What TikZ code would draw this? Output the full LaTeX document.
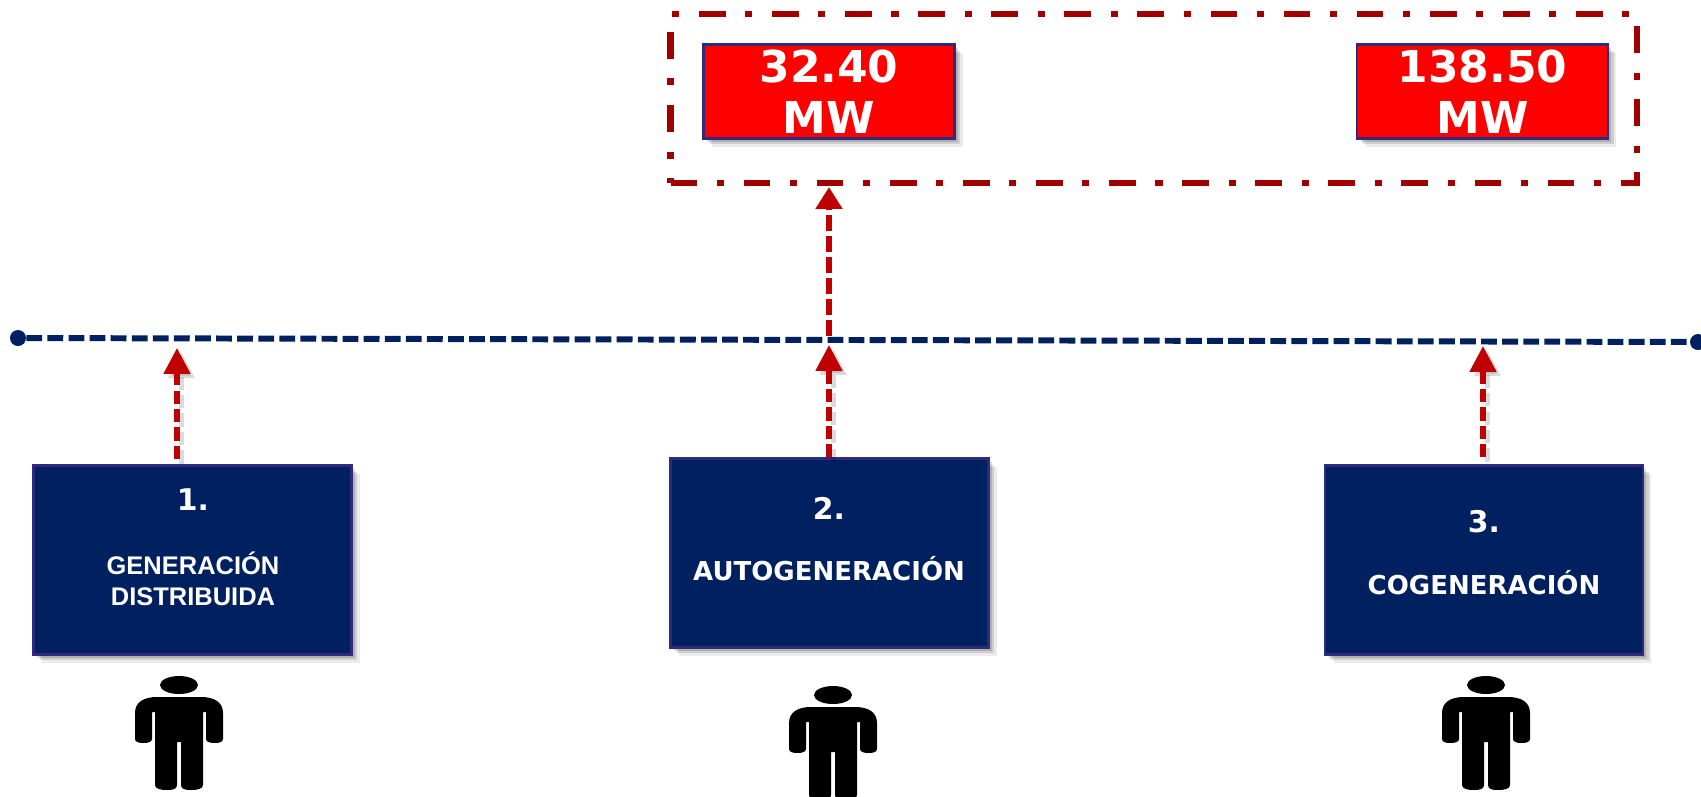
\documentclass[tikz,border=0pt]{standalone}
\usepackage{fontspec}
\setmainfont{DejaVu Sans}
\newfontfamily\arialfont{Liberation Sans}
\usetikzlibrary{arrows.meta,shadows}
\definecolor{azul}{HTML}{002060}
\definecolor{borde}{HTML}{2E2A7E}
\definecolor{rojo}{HTML}{FF0000}
\definecolor{rojoflecha}{HTML}{C00000}
\definecolor{rojolimite}{HTML}{A00000}
\tikzset{
	sombra/.style={
		drop shadow={shadow xshift=.17cm,shadow yshift=-.17cm,opacity=.08,fill=black},
		drop shadow={shadow xshift=.12cm,shadow yshift=-.12cm,opacity=.12,fill=black},
		drop shadow={shadow xshift=.07cm,shadow yshift=-.07cm,opacity=.15,fill=black}},
	caja/.style={draw=borde, line width=1.2pt, fill=azul, minimum width=6.36cm, minimum height=3.78cm, inner sep=0pt, sombra},
	cajamw/.style={draw=borde, line width=1.3pt, fill=rojo, text=white, minimum width=5.02cm, minimum height=1.88cm, inner sep=0pt, align=center, font=\fontsize{25}{29.2}\selectfont\bfseries, sombra},
	limite/.style={draw=rojolimite, line width=3.8pt, outer sep=0pt, minimum width=19.33cm, minimum height=3.38cm, inner sep=0pt, dash pattern=on 15.2pt off 11.2pt on 4pt off 11.2pt},
	numero/.style={text=white, inner sep=0pt, font=\fontsize{17}{20}\selectfont\bfseries},
	etiqueta/.style={text=white, inner sep=0pt, align=center, font=\fontsize{14.8}{18}\selectfont\bfseries},
	punto/.style={circle, fill=azul, minimum size=.32cm, inner sep=0pt},
	barra/.style={draw=azul, line width=3.4pt, dash pattern=on 9pt off 3pt},
	flecha/.style={draw=rojoflecha, line width=2.9pt, dash pattern=on 7.6pt off 2.9pt, -{Triangle[width=14.7pt,length=14.7pt]}},
	flechalim/.style={draw=rojoflecha, line width=3.4pt, dash pattern=on 9pt off 3pt, -{Triangle[width=14.7pt,length=12.5pt]}},
	flechasombra/.style={flecha, draw=black, opacity=.14, transform canvas={shift={(2.5pt,-2.5pt)}}},
	pics/persona/.style={code={
		\fill[black] (0,0) ellipse (19 and 9);
		\fill[black] (-44,28) .. controls (-44,17) and (-35,12) .. (-22,12) -- (22,12) .. controls (35,12) and (44,17) .. (44,28)
			-- (44,54) .. controls (44,57) and (40,58) .. (36,58) .. controls (31,58) and (27,57) .. (27,54) -- (27,27) -- (24,27)
			-- (24,100) .. controls (24,104) and (18,105) .. (12,105) .. controls (6,105) and (2,104) .. (2,100) -- (2,57) -- (-2,57)
			-- (-2,100) .. controls (-2,104) and (-6,105) .. (-12,105) .. controls (-18,105) and (-24,104) .. (-24,100) -- (-24,27) -- (-27,27)
			-- (-27,54) .. controls (-27,57) and (-31,58) .. (-36,58) .. controls (-40,58) and (-44,57) .. (-44,54) -- cycle;
	}}
}
\begin{document}
\begin{tikzpicture}[x=0.02cm, y=-0.02cm]
		\clip (0,0) rectangle (1701,796);
		\fill[white] (0,0) rectangle (1701,796);
		% limite superior
		\node[limite] (lim) at (1153.7,98.5) {};
		\node[cajamw] (mw1) at (829,91.5) {32.40\\MW};
		\node[cajamw] (mw2) at (1482.5,91.5) {138.50\\MW};
		% barra
		\coordinate (bus2) at (829,336);
		\draw[flechalim, shorten >=2.3pt] (bus2) -- (lim.south -| bus2);
		\node[punto] (ini) at (18,338) {};
		\node[punto] (fin) at (1698,342) {};
		\draw[barra] (ini) -- (fin);
		% cajas
		\node[caja] (gd) at (192.5,560) {};
		\node[caja] (auto) at (829.5,553) {};
		\node[caja] (cog) at (1484,560) {};
		\node[numero] (n1) at (193,500) {1.};
		\node[numero] (n2) at (829,508) {2.};
		\node[numero] (n3) at (1484,522) {3.};
		\node[etiqueta, font=\fontsize{14.5}{18}\selectfont\bfseries\arialfont] (t1) at (193,579) {GENERACIÓN\\DISTRIBUIDA};
		\node[etiqueta] (t2) at (829,569) {AUTOGENERACIÓN};
		\node[etiqueta] (t3) at (1484,583) {COGENERACIÓN};
		% flechas
		\coordinate (tip1) at (177,348);
		\coordinate (tip2) at (829,345);
		\coordinate (tip3) at (1483,346);
		\draw[flechasombra, shorten <=3pt] (tip1 |- gd.north) -- (tip1);
		\draw[flechasombra] (tip2 |- auto.north) -- (tip2);
		\draw[flechasombra, shorten <=4pt] (tip3 |- cog.north) -- (tip3);
		\draw[flecha, shorten <=3pt] (tip1 |- gd.north) -- (tip1);
		\draw[flecha] (tip2 |- auto.north) -- (tip2);
		\draw[flecha, shorten <=4pt] (tip3 |- cog.north) -- (tip3);
		% personas
		\pic at (179,685) {persona};
		\pic at (833,695) {persona};
		\pic at (1486,685) {persona};
\end{tikzpicture}
\end{document}
